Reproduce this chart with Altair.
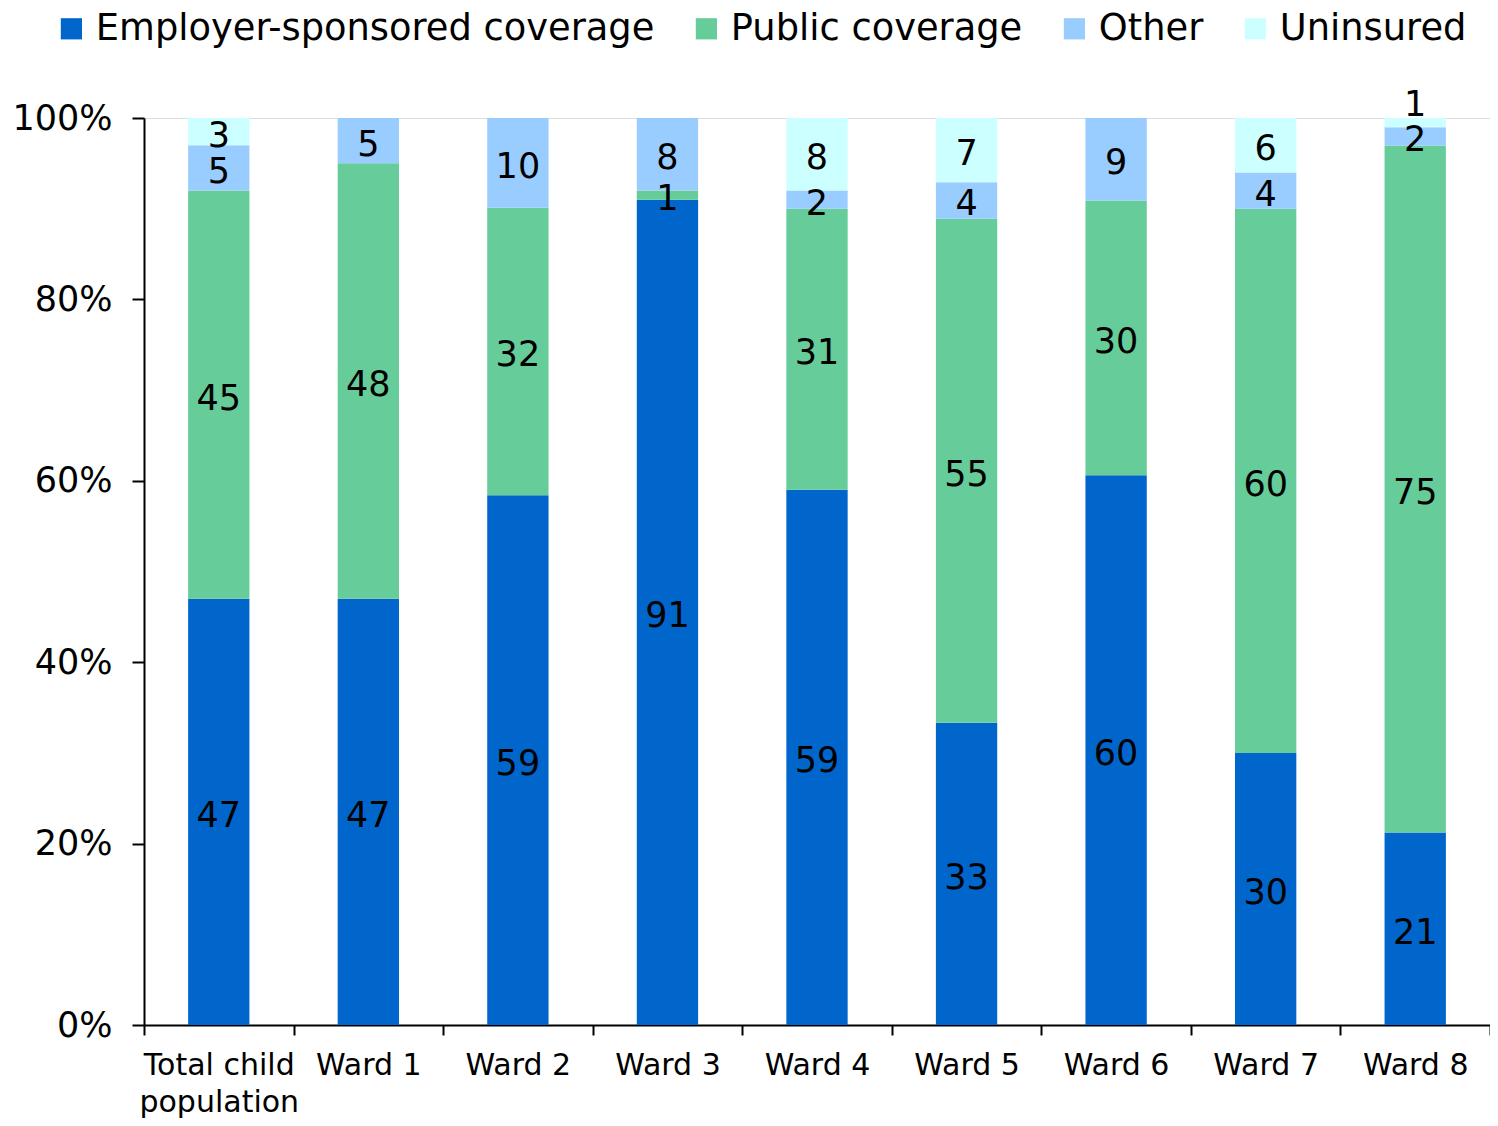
import altair as alt
import pandas as pd

categories = ["Total child population", "Ward 1", "Ward 2", "Ward 3", "Ward 4",
              "Ward 5", "Ward 6", "Ward 7", "Ward 8"]
series = ["Employer-sponsored coverage", "Public coverage", "Other", "Uninsured"]
colors = ["#0066CC", "#66CC99", "#99CCFF", "#CCFFFF"]

employer = [47, 47, 59, 91, 59, 33, 60, 30, 21]
public = [45, 48, 32, 1, 31, 55, 30, 60, 75]
other = [5, 5, 10, 8, 2, 4, 9, 4, 2]
uninsured = [3, 0, 0, 0, 8, 7, 0, 6, 1]

rows = []
for i, c in enumerate(categories):
    for j, (s, vals) in enumerate(zip(series, [employer, public, other, uninsured])):
        rows.append({"cat": c, "series": s, "order": j, "value": vals[i]})
df = pd.DataFrame(rows)

FONT = "DejaVu Sans"

base = alt.Chart(df).transform_stack(
    stack="value", groupby=["cat"],
    sort=[alt.SortField("order", order="ascending")],
    as_=["y0", "y1"], offset="normalize"
).transform_calculate(mid="(datum.y0 + datum.y1) / 2")

x_scale = alt.Scale(paddingInner=0, paddingOuter=0)

x_enc = alt.X(
    "cat:N", sort=categories, title=None, scale=x_scale,
    axis=alt.Axis(
        labelAngle=0, tickBand="extent", labelFontSize=30, labelFont=FONT,
        labelColor="black", domainColor="black", domainWidth=2,
        tickColor="black", tickWidth=2, tickSize=10, labelPadding=15,
        labelLineHeight=37, labelBaseline="top",
        labelExpr="datum.value == 'Total child population' ? ['Total child', 'population'] : datum.value",
    ),
)

y_scale = alt.Scale(domain=[0, 1], nice=False)

bars = base.mark_bar(width=alt.RelativeBandSize(0.41)).encode(
    x=x_enc,
    y=alt.Y("y0:Q", scale=y_scale, title=None,
            axis=alt.Axis(format=".0%", values=[0, 0.2, 0.4, 0.6, 0.8, 1.0],
                          grid=False, labelFontSize=35, labelFont=FONT,
                          labelColor="black", domainColor="black", domainWidth=2,
                          tickColor="black", tickWidth=2, tickSize=12,
                          labelPadding=20)),
    y2="y1:Q",
    color=alt.Color(
        "series:N", scale=alt.Scale(domain=series, range=colors),
        legend=alt.Legend(
            title=None, orient="none", legendX=-91, legendY=-108,
            direction="horizontal", symbolType="square", symbolSize=450,
            symbolStrokeWidth=0, labelFontSize=36.8, labelFont=FONT,
            labelColor="black", columnPadding=33, labelOffset=6, padding=0,
            labelLimit=0,
        ),
    ),
)

labels = base.transform_filter(
    "datum.value > 0 && !(datum.cat == 'Ward 8' && datum.series == 'Uninsured')"
).mark_text(fontSize=35, font=FONT, color="black", baseline="middle", dy=4).encode(
    x=alt.X("cat:N", sort=categories, scale=x_scale),
    y=alt.Y("mid:Q", scale=y_scale, title=None),
    text=alt.Text("value:Q"),
)

shifted = base.transform_filter(
    "datum.value > 0 && datum.cat == 'Ward 8' && datum.series == 'Uninsured'"
).mark_text(fontSize=35, font=FONT, color="black", baseline="middle", dy=-18).encode(
    x=alt.X("cat:N", sort=categories, scale=x_scale),
    y=alt.Y("mid:Q", scale=y_scale, title=None),
    text=alt.Text("value:Q"),
)

chart = alt.layer(bars, labels, shifted).properties(
    width=1346, height=907,
    autosize=alt.AutoSizeParams(type="none"),
    padding={"left": 136, "top": 110, "right": 0, "bottom": 93},
).configure_view(stroke=None).configure(background="white")

chart.save("out.html", embed_options={"renderer": "svg", "actions": False})
